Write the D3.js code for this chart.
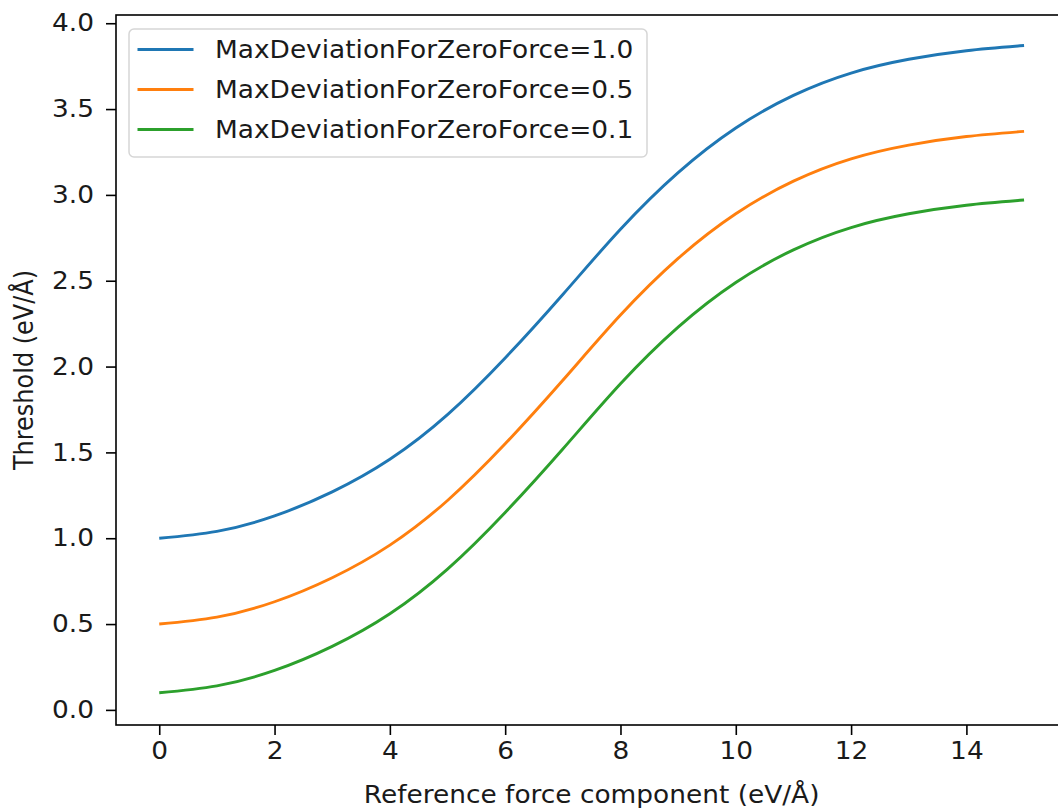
<!DOCTYPE html>
<html>
<head>
<meta charset="utf-8">
<script src="https://cdn.jsdelivr.net/npm/d3@7"></script>
<style>
  body { margin: 0; background: #fff; }
  text { font-family: "DejaVu Sans", sans-serif; fill: #1a1a1a; }
</style>
</head>
<body>
<script>
// values
var forceValues = [0, 1, 2, 3, 4, 5, 6, 7, 8, 9, 10, 11, 12, 13, 14, 15];
var thresholdDev10 = [1.00, 1.04, 1.13, 1.27, 1.46, 1.72, 2.05, 2.42, 2.80, 3.13, 3.39, 3.58, 3.71, 3.79, 3.84, 3.87];
var thresholdDev05 = [0.50, 0.54, 0.63, 0.77, 0.96, 1.22, 1.55, 1.92, 2.30, 2.63, 2.89, 3.08, 3.21, 3.29, 3.34, 3.37];
var thresholdDev01 = [0.10, 0.14, 0.23, 0.37, 0.56, 0.82, 1.15, 1.52, 1.90, 2.23, 2.49, 2.68, 2.81, 2.89, 2.94, 2.97];
var seriesLabels = ["MaxDeviationForZeroForce=1.0", "MaxDeviationForZeroForce=0.5", "MaxDeviationForZeroForce=0.1"];
var seriesColors = ["#1f77b4", "#ff7f0e", "#2ca02c"];
var xTickValues = [0, 2, 4, 6, 8, 10, 12, 14];
var yTickValues = [0.0, 0.5, 1.0, 1.5, 2.0, 2.5, 3.0, 3.5, 4.0];

var W = 1058, H = 811;
var plotLeft = 116, plotRight = 1067.3, plotTop = 15, plotBottom = 725;
var fontSize = 24;
var stretch = "scale(1.1,1)";   // the picture is a bit wider than tall

var svg = d3.select("body").append("svg")
  .attr("width", W)
  .attr("height", H);

var x = d3.scaleLinear().domain([-0.75, 15.75]).range([plotLeft, plotRight]);
var y = d3.scaleLinear().domain([-0.088, 4.048]).range([plotBottom, plotTop]);

var series = [thresholdDev10, thresholdDev05, thresholdDev01].map(function(vals, i) {
  return {
    label: seriesLabels[i],
    color: seriesColors[i],
    points: vals.map(function(v, j) { return [forceValues[j], v]; })
  };
});

var line = d3.line()
  .x(function(d) { return x(d[0]); })
  .y(function(d) { return y(d[1]); })
  .curve(d3.curveNatural);

svg.append("g")
  .attr("class", "lines")
  .selectAll("path")
  .data(series)
  .enter().append("path")
    .attr("d", function(d) { return line(d.points); })
    .style("fill", "none")
    .style("stroke", function(d) { return d.color; })
    .style("stroke-width", 2.9);

/* Axes */
var xAxis = svg.append("g")
  .attr("transform", "translate(0," + plotBottom + ")")
  .call(d3.axisBottom(x).tickValues(xTickValues).tickFormat(d3.format("d"))
    .tickSize(10).tickSizeOuter(0).tickPadding(7));

var yAxis = svg.append("g")
  .attr("transform", "translate(" + plotLeft + ",0)")
  .call(d3.axisLeft(y).tickValues(yTickValues).tickFormat(d3.format(".1f"))
    .tickSize(10).tickSizeOuter(0).tickPadding(10));

[xAxis, yAxis].forEach(function(ax) {
  ax.select(".domain").remove();
  ax.selectAll(".tick line").style("stroke", "#000").style("stroke-width", 1.6);
  ax.selectAll(".tick text")
    .attr("transform", stretch)
    .style("font-size", fontSize + "px")
    .style("font-family", "DejaVu Sans")
    .attr("fill", "#1a1a1a");
});

// frame (right side falls outside the picture)
svg.append("rect")
  .attr("x", plotLeft)
  .attr("y", plotTop)
  .attr("width", plotRight - plotLeft)
  .attr("height", plotBottom - plotTop)
  .style("fill", "none")
  .style("stroke", "#000")
  .style("stroke-width", 1.6);

/* Axis labels */
svg.append("g")
  .attr("transform", "translate(" + ((plotLeft + plotRight) / 2) + ",803)")
  .append("text")
    .attr("transform", stretch)
    .style("text-anchor", "middle")
    .style("font-size", fontSize + "px")
    .text("Reference force component (eV/Å)");

svg.append("g")
  .attr("transform", "translate(33," + ((plotTop + plotBottom) / 2) + ")")
  .append("text")
    .attr("transform", "scale(1.1,1) rotate(-90)")
    .style("text-anchor", "middle")
    .style("font-size", fontSize + "px")
    .text("Threshold (eV/Å)");

/* Legend */
var legend = svg.append("g").attr("class", "legend");

legend.append("rect")
  .attr("x", 129)
  .attr("y", 29)
  .attr("width", 518)
  .attr("height", 128)
  .attr("rx", 5)
  .style("fill", "#fff")
  .style("fill-opacity", 0.8)
  .style("stroke", "#d6d6d6")
  .style("stroke-width", 1.5);

var rows = legend.selectAll(".row")
  .data(series)
  .enter().append("g")
    .attr("class", "row")
    .attr("transform", function(d, i) { return "translate(0," + (49.5 + i * 40) + ")"; });

rows.append("line")
  .attr("x1", 137.5)
  .attr("x2", 193.5)
  .style("stroke", function(d) { return d.color; })
  .style("stroke-width", 2.9);

rows.append("g")
  .attr("transform", "translate(215,8.5)")
  .append("text")
    .attr("transform", stretch)
    .style("font-size", fontSize + "px")
    .text(function(d) { return d.label; });
</script>
</body>
</html>
